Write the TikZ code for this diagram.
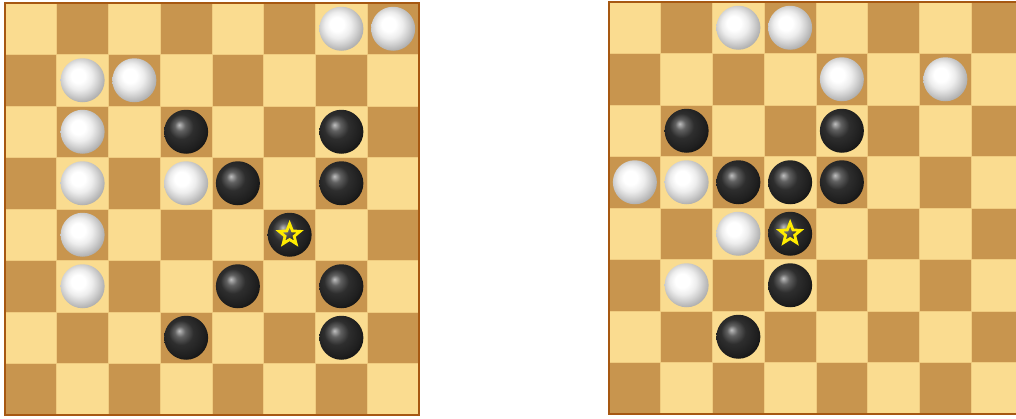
\documentclass[tikz,border=0pt]{standalone}
\usetikzlibrary{shapes.geometric}
\definecolor{lightsq}{RGB}{250,220,144}
\definecolor{darksq}{RGB}{200,149,78}
\definecolor{rim}{RGB}{166,88,18}
\definecolor{gridln}{RGB}{240,204,128}
\definecolor{staryel}{RGB}{255,236,0}
\pgfdeclareradialshading{whiteball}{\pgfpoint{-6bp}{6bp}}{%
  color(0bp)=(white); color(8bp)=(white); color(15bp)=(black!7);
  color(21bp)=(black!18); color(27bp)=(black!30); color(33bp)=(black!40); color(50bp)=(black!45)}
\pgfdeclareradialshading{blackball}{\pgfpoint{-8bp}{8bp}}{%
  color(0bp)=(black!25); color(6bp)=(black!62); color(14bp)=(black!82);
  color(25bp)=(black!88); color(33bp)=(black!95); color(50bp)=(black)}
\tikzset{
  sq/.style={draw=gridln, line width=0.6pt},
  boardrim/.style={draw=rim, line width=1.6pt},
  blackstone/.style={circle, minimum size=33pt, inner sep=0pt, shading=blackball},
  whitestone/.style={circle, minimum size=33pt, inner sep=0pt, shading=whiteball},
  starmark/.style={star, star points=5, star point ratio=2.3, minimum size=16.5pt, inner sep=0pt, draw=staryel, line width=2.1pt}
}
\begin{document}
\begin{tikzpicture}[x=0.75pt,y=-0.75pt]
\useasboundingbox (0,0) rectangle (1016,418);
\clip (0,0) rectangle (1016,418);
% ---------- left board ----------
\def\LX{5}\def\LY{3}\def\W{51.75}\def\H{51.5}
\foreach \r in {0,...,7}{
  \foreach \c in {0,...,7}{
    \pgfmathtruncatemacro{\parity}{mod(\r+\c,2)}
    \ifnum\parity=0 \def\col{lightsq}\else\def\col{darksq}\fi
    \path[sq, fill=\col] ({\LX+\c*\W},{\LY+\r*\H}) rectangle ++(\W,\H);
  }
}
\draw[boardrim] (\LX,\LY) rectangle ++({8*\W},{8*\H});
% ---------- right board ----------
\def\RX{609}\def\RY{2}
\foreach \r in {0,...,7}{
  \foreach \c in {0,...,7}{
    \pgfmathtruncatemacro{\parity}{mod(\r+\c,2)}
    \ifnum\parity=0 \def\col{lightsq}\else\def\col{darksq}\fi
    \path[sq, fill=\col] ({\RX+\c*\W},{\RY+\r*\H}) rectangle ++(\W,\H);
  }
}
\draw[boardrim] (\RX,\RY) rectangle ++({8*\W},{8*\H});
% ---------- left stones ----------
\foreach \r/\c in {0/6,0/7,1/1,1/2,2/1,3/1,3/3,4/1,5/1}{
  \node[whitestone] (LW-\r-\c) at ({\LX+(\c+0.5)*\W},{\LY+(\r+0.5)*\H}) {};
}
\foreach \r/\c in {2/3,2/6,3/4,3/6,4/5,5/4,5/6,6/3,6/6}{
  \node[blackstone] (LB-\r-\c) at ({\LX+(\c+0.5)*\W},{\LY+(\r+0.5)*\H}) {};
}
\node[starmark] (LS) at (LB-4-5.center) {};
% ---------- right stones ----------
\foreach \r/\c in {0/2,0/3,1/4,1/6,3/0,3/1,4/2,5/1}{
  \node[whitestone] (RW-\r-\c) at ({\RX+(\c+0.5)*\W},{\RY+(\r+0.5)*\H}) {};
}
\foreach \r/\c in {2/1,2/4,3/2,3/3,3/4,4/3,5/3,6/2}{
  \node[blackstone] (RB-\r-\c) at ({\RX+(\c+0.5)*\W},{\RY+(\r+0.5)*\H}) {};
}
\node[starmark] (RS) at (RB-4-3.center) {};
\end{tikzpicture}
\end{document}
